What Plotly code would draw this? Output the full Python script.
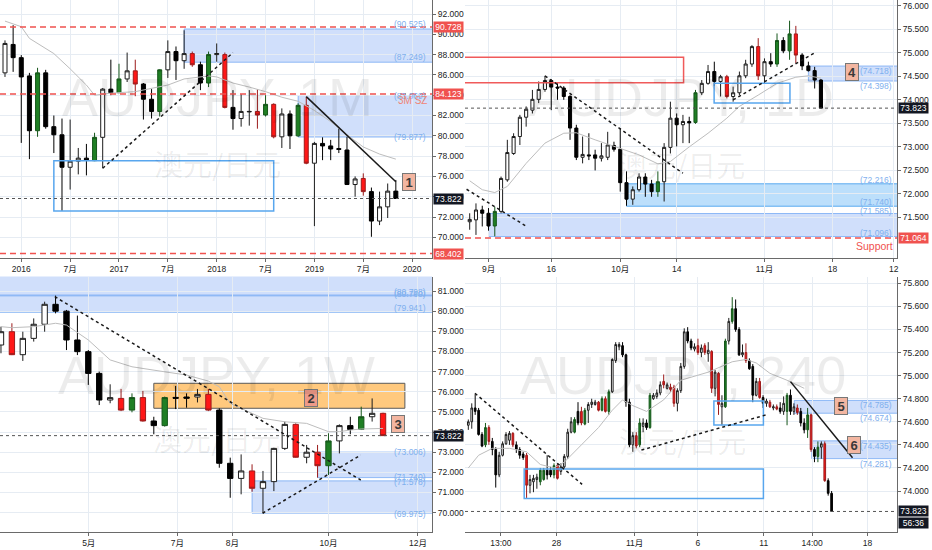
import plotly.graph_objects as go

# ============================ DATA ============================
# ---- Monthly (top-left), Nov 2015 .. Nov 2019 ----
m_kind = ['w','b','b','b','g','b','b','b','w','w','b','g','w','b','g','w','r','b','b','g',
          'w','b','w','r','b','g','w','r','b','w','w','r','g','r','w','b','g','r','w','b',
          'b','b','b','w','r','b','w','w','b']
m_open = [86.2, 89.0, 87.7, 85.9, 80.5, 86.2, 80.9, 80.1, 76.9, 77.5, 77.8, 77.55, 79.85, 84.6, 84.25,
          85.6, 86.4, 85.1, 83.6, 82.4, 86.5, 88.3, 87.4, 88.1, 87.0, 85.2, 88.0, 88.0, 82.8, 81.7,
          82.35, 82.4, 82.05, 83.1, 79.9, 82.15, 80.0, 83.0, 77.3, 79.25, 79.0, 78.75, 78.6, 75.2, 75.8,
          74.5, 71.6, 73.0, 74.55]
m_high = [89.4, 90.9, 87.95, 86.2, 86.7, 86.5, 82.0, 81.7, 81.6, 78.8, 79.2, 80.3, 84.7, 87.5, 87.1,
          88.2, 87.5, 85.2, 84.6, 86.55, 89.4, 88.8, 90.4, 88.3, 87.3, 88.3, 89.1, 88.2, 84.5, 84.1,
          84.5, 84.6, 84.0, 83.2, 82.7, 82.5, 83.2, 83.85, 79.4, 79.85, 79.6, 80.7, 79.9, 76.0, 76.3,
          74.9, 74.5, 75.3, 75.65]
m_low = [85.8, 86.3, 79.3, 77.7, 79.9, 80.7, 78.3, 72.6, 74.7, 76.2, 76.1, 77.5, 76.8, 84.0, 84.2,
         85.3, 83.9, 81.6, 81.7, 81.9, 85.7, 85.5, 86.6, 86.8, 84.5, 84.8, 87.3, 82.7, 80.6, 80.9,
         81.0, 80.7, 81.9, 79.75, 78.8, 78.7, 79.9, 77.2, 71.1, 77.6, 77.6, 78.3, 75.15, 74.0, 74.1,
         70.05, 71.2, 71.9, 73.82]
m_close = [89.1, 87.7, 85.8, 80.5, 86.2, 80.9, 80.1, 76.9, 77.5, 77.8, 77.6, 79.85, 84.6, 84.25, 85.6,
           86.4, 85.1, 83.6, 82.4, 86.5, 88.3, 87.4, 88.1, 87.0, 85.2, 88.0, 88.1, 82.8, 81.7, 82.4,
           82.4, 82.05, 83.1, 79.9, 82.15, 80.0, 83.0, 77.3, 79.25, 79.0, 78.7, 78.65, 75.2, 75.75, 74.5,
           71.6, 73.0, 74.55, 73.822]
m_ma_x = [0, 2, 3, 6, 8, 10, 11, 13, 16, 18, 20, 22, 25, 26, 28, 30, 32, 34, 36, 38, 40, 42, 44, 46, 48]
m_ma_y = [91.3, 90.75, 89.6, 88.1, 86.6, 85.0, 84.0, 84.2, 84.35, 84.7, 85.0, 85.6, 85.9, 85.8, 85.2,
          84.8, 84.35, 83.8, 83.4, 82.5, 81.4, 80.1, 78.9, 78.2, 77.7]
m_tickvals = [2, 8, 14, 20, 26, 32, 38, 44, 50]
m_ticktext = ['2016', '7月', '2017', '7月', '2018', '7月', '2019', '7月', '2020']
m_yticks = [70, 72, 74, 76, 78, 80, 82, 84, 86, 88, 90, 92]

# ---- Daily (top-right) ----
d_kind = ['w','w','b','b','g','w','w','w','w','w',
          'w','w','w','b','b','b','b','b','w','b',
          'b','w','w','b','b','b','w','w','b','b',
          'g','w','w','b','w','b','g','w','w','b',
          'w','r','w','w','w','w','r','w','b','g',
          'b','g','r','b','b','b','b']
d_open = [71.41, 71.45, 71.66, 71.59, 71.32, 71.63, 72.30, 72.86, 73.22, 73.63,
          73.78, 74.01, 74.22, 74.41, 74.27, 74.25, 74.07, 73.40, 72.78, 72.83,
          72.83, 72.76, 72.78, 73.03, 72.95, 72.24, 71.89, 72.09, 72.36, 72.21,
          72.05, 72.26, 72.99, 73.61, 73.47, 73.54, 73.52, 74.15, 74.35, 74.60,
          74.39, 74.49, 74.07, 74.15, 74.51, 74.76, 75.13, 74.51, 74.81, 74.76,
          75.26, 75.04, 75.40, 74.95, 74.72, 74.62, 74.42]
d_high = [71.59, 71.80, 71.75, 71.70, 71.73, 72.37, 73.15, 73.29, 73.68, 73.86,
          74.21, 74.39, 74.51, 74.44, 74.35, 74.29, 74.10, 73.47, 73.22, 73.29,
          72.94, 73.08, 73.32, 73.11, 73.40, 72.48, 72.16, 72.44, 72.44, 72.30,
          72.48, 73.08, 73.96, 73.71, 73.68, 73.64, 74.21, 74.42, 74.74, 74.81,
          74.53, 74.53, 74.28, 74.60, 74.85, 75.16, 75.31, 74.88, 74.99, 75.41,
          75.33, 75.68, 75.57, 74.99, 74.81, 74.70, 74.44]
d_low = [71.24, 71.13, 71.31, 71.22, 71.10, 71.59, 72.26, 72.83, 73.04, 73.43,
         73.71, 73.93, 74.17, 73.78, 74.00, 74.00, 73.15, 72.72, 72.65, 72.72,
         72.50, 72.69, 72.72, 72.90, 72.05, 71.75, 71.77, 72.05, 71.94, 71.94,
         71.94, 71.84, 72.86, 73.01, 73.08, 73.08, 73.49, 74.10, 74.32, 74.29,
         74.07, 74.03, 73.96, 74.10, 74.46, 74.70, 74.42, 74.35, 74.70, 74.70,
         74.99, 74.85, 74.78, 74.63, 74.60, 74.24, 73.82]
d_close = [71.46, 71.66, 71.59, 71.32, 71.63, 72.33, 72.88, 73.22, 73.63, 73.80,
           74.01, 74.22, 74.41, 74.27, 74.25, 74.07, 73.40, 72.78, 72.84, 72.81,
           72.76, 72.81, 73.04, 72.95, 72.24, 71.89, 72.09, 72.36, 72.21, 72.05,
           72.26, 72.99, 73.61, 73.47, 73.54, 73.51, 74.15, 74.35, 74.60, 74.39,
           74.49, 74.07, 74.15, 74.51, 74.76, 75.13, 74.51, 74.81, 74.76, 75.26,
           75.04, 75.40, 74.95, 74.72, 74.62, 74.42, 73.823]
d_ma_x = [0, 2, 4, 6, 9, 12, 15, 17, 20, 24, 27, 30, 32, 35, 38, 41, 43, 46, 49, 52, 54, 56]
d_ma_y = [72.28, 72.09, 72.03, 72.16, 72.65, 73.08, 73.29, 73.30, 73.15, 72.97, 72.83,
          72.64, 72.69, 73.00, 73.29, 73.61, 73.86, 74.10, 74.35, 74.48, 74.51, 74.46]
d_tickvals = [3, 13, 24, 33, 47, 57.85, 67.6]
d_ticktext = ['9月', '16', '10月', '14', '11月', '18', '12']
d_yticks = [71.5, 72.0, 72.5, 73.0, 73.5, 74.0, 74.5, 75.0, 75.5, 76.0]

# ---- Weekly (bottom-left) ----
w_kind = ['w','r','w','w','w','b','b','b','b','b',
          'w','r','g','r','b','g','b','b','w','r',
          'b','b','w','r','w','w','w','r','w','r',
          'g','w','b','g','w','r']
w_open = [78.32, 78.98, 77.84, 78.65, 79.35, 80.34, 80.0, 78.57, 77.99, 76.91,
          75.59, 75.67, 75.09, 75.71, 74.55, 74.32, 75.72, 75.74, 75.74, 75.87,
          75.09, 72.45, 71.70, 72.07, 71.21, 71.54, 73.19, 74.38, 72.75, 73.0,
          72.33, 73.56, 74.32, 74.13, 74.76, 74.93]
w_high = [79.23, 79.40, 78.98, 79.64, 80.47, 80.77, 80.06, 79.78, 78.07, 77.0,
          76.37, 76.14, 75.92, 76.04, 74.76, 75.76, 76.29, 75.92, 76.14, 76.14,
          75.18, 72.73, 72.89, 72.40, 72.07, 73.22, 74.52, 74.43, 73.36, 73.36,
          73.94, 74.38, 74.76, 75.26, 75.67, 74.96]
w_low = [77.91, 77.82, 77.53, 78.49, 78.98, 79.89, 78.07, 77.82, 76.34, 75.34,
         75.43, 75.04, 74.98, 74.52, 73.89, 74.27, 75.14, 75.21, 75.47, 75.04,
         72.23, 70.74, 70.91, 71.04, 69.97, 71.07, 73.11, 72.73, 72.45, 71.74,
         71.87, 72.94, 73.89, 74.10, 74.52, 73.82]
w_close = [78.98, 77.84, 78.65, 79.35, 80.34, 80.0, 78.57, 77.99, 76.91, 75.59,
           75.71, 75.09, 75.71, 74.55, 74.32, 75.71, 75.68, 75.68, 75.87, 75.09,
           72.45, 71.70, 72.07, 71.21, 71.54, 73.19, 74.38, 72.75, 73.0, 72.33,
           73.56, 74.32, 74.13, 74.76, 74.93, 73.822]
w_ma_x = [0, 1, 3, 5, 6, 8, 10, 12, 15, 17, 19, 20, 21, 24, 26, 28, 30, 31, 32, 33, 35]
w_ma_y = [79.23, 79.18, 79.23, 79.40, 79.31, 78.57, 77.58, 77.24, 76.99, 76.83, 76.53,
          76.25, 75.42, 74.68, 74.51, 74.43, 74.02, 74.02, 74.10, 74.15, 74.18]
w_tickvals = [8.04, 16.15, 21.2, 30.0, 38.2]
w_ticktext = ['5月', '7月', '8月', '10月', '12月']
w_yticks = [70, 71, 72, 73, 74, 75, 76, 77, 78, 79, 80, 81]

# ---- 4 hour (bottom-right) ----
h_kind = ['w','w','b','b','b','g','r','b','b','w',
          'w','w','w','r','b','b','b','r','w','w',
          'w','g','g','b','b','g','r','w','w','w',
          'w','g','b','r','g','w','w','w','r','g',
          'r','g','w','w','w','b','b','b','w','r',
          'g','w','b','g','w','w','w','r','w','r',
          'r','w','w','w','b','b','w','r','w','r',
          'w','r','w','r','w','g','w','g','b','b',
          'w','r','b','b','w','r','b','w','r','w',
          'r','b','w','g','b','w','r','b','b','g',
          'r','b','g','w','r','b','b']
h_open = [74.57, 74.60, 74.72, 74.70, 74.49, 74.40, 74.55, 74.43, 74.36, 74.14,
          74.31, 74.41, 74.44, 74.50, 74.40, 74.36, 74.32, 74.31, 74.05, 74.08,
          74.10, 74.08, 74.10, 74.18, 74.18, 74.14, 74.22, 74.17, 74.21, 74.30,
          74.51, 74.51, 74.69, 74.69, 74.58, 74.70, 74.75, 74.75, 74.77, 74.70,
          74.80, 74.69, 74.86, 75.13, 75.25, 75.26, 75.18, 74.77, 74.40, 74.48,
          74.40, 74.56, 74.59, 74.55, 74.80, 74.82, 74.85, 74.95, 74.89, 74.90,
          74.90, 74.76, 74.87, 75.08, 75.38, 75.30, 75.23, 75.26, 75.20, 75.26,
          75.19, 75.21, 74.89, 75.02, 74.73, 74.73, 75.30, 75.47, 75.58, 75.40,
          75.18, 75.20, 75.13, 75.08, 74.83, 74.95, 74.81, 74.76, 74.77, 74.72,
          74.73, 74.72, 74.69, 74.69, 74.83, 74.69, 74.72, 74.69, 74.59, 74.53,
          74.66, 74.36, 74.30, 74.38, 74.41, 74.09, 73.98]
h_high = [74.62, 74.76, 74.84, 74.72, 74.51, 74.59, 74.57, 74.46, 74.38, 74.34,
          74.43, 74.51, 74.52, 74.51, 74.43, 74.38, 74.34, 74.33, 74.14, 74.14,
          74.15, 74.20, 74.20, 74.31, 74.21, 74.24, 74.24, 74.24, 74.32, 74.54,
          74.64, 74.64, 74.77, 74.73, 74.72, 74.77, 74.80, 74.79, 74.78, 74.82,
          74.82, 74.88, 75.15, 75.29, 75.29, 75.29, 75.19, 74.80, 74.51, 74.51,
          74.63, 74.63, 74.62, 74.85, 74.85, 74.88, 74.95, 75.01, 74.94, 74.93,
          74.92, 74.89, 75.11, 75.41, 75.42, 75.32, 75.28, 75.32, 75.27, 75.28,
          75.29, 75.22, 75.05, 75.03, 74.83, 75.32, 75.50, 75.68, 75.66, 75.42,
          75.27, 75.28, 75.15, 75.10, 74.98, 74.98, 74.83, 74.80, 74.79, 74.75,
          74.75, 74.77, 74.82, 74.85, 74.88, 74.76, 74.75, 74.72, 74.63, 74.72,
          74.67, 74.38, 74.43, 74.43, 74.43, 74.11, 74.00]
h_low = [74.53, 74.54, 74.66, 74.48, 74.38, 74.38, 74.40, 74.31, 74.03, 74.12,
         74.30, 74.40, 74.40, 74.38, 74.33, 74.28, 74.27, 73.94, 73.98, 73.99,
         74.02, 74.05, 74.09, 74.10, 74.12, 74.11, 74.10, 74.14, 74.20, 74.28,
         74.50, 74.50, 74.57, 74.57, 74.57, 74.59, 74.72, 74.74, 74.69, 74.69,
         74.68, 74.66, 74.85, 75.11, 75.22, 75.16, 74.73, 74.38, 74.34, 74.37,
         74.38, 74.51, 74.53, 74.54, 74.79, 74.80, 74.83, 74.89, 74.88, 74.86,
         74.73, 74.69, 74.85, 75.06, 75.28, 75.22, 75.21, 75.18, 75.16, 75.18,
         75.12, 74.85, 74.82, 74.66, 74.57, 74.72, 75.27, 75.45, 75.38, 75.17,
         75.16, 75.11, 75.05, 74.77, 74.82, 74.80, 74.72, 74.73, 74.72, 74.70,
         74.70, 74.67, 74.66, 74.57, 74.66, 74.66, 74.66, 74.56, 74.50, 74.46,
         74.34, 74.25, 74.25, 74.28, 74.08, 73.96, 73.82]
h_close = [74.60, 74.72, 74.69, 74.49, 74.39, 74.55, 74.43, 74.36, 74.14, 74.31,
           74.41, 74.49, 74.50, 74.40, 74.36, 74.31, 74.29, 74.05, 74.10, 74.11,
           74.12, 74.18, 74.18, 74.14, 74.14, 74.22, 74.11, 74.21, 74.30, 74.51,
           74.60, 74.62, 74.59, 74.59, 74.70, 74.75, 74.77, 74.77, 74.70, 74.80,
           74.69, 74.86, 75.14, 75.27, 75.27, 75.18, 74.77, 74.40, 74.48, 74.39,
           74.59, 74.59, 74.55, 74.83, 74.83, 74.85, 74.92, 74.92, 74.92, 74.88,
           74.76, 74.87, 75.08, 75.38, 75.30, 75.24, 75.25, 75.20, 75.24, 75.20,
           75.22, 74.89, 75.03, 74.75, 74.76, 75.30, 75.47, 75.58, 75.40, 75.18,
           75.20, 75.13, 75.06, 74.83, 74.95, 74.81, 74.76, 74.78, 74.73, 74.73,
           74.71, 74.69, 74.76, 74.83, 74.69, 74.73, 74.68, 74.59, 74.53, 74.66,
           74.36, 74.30, 74.38, 74.41, 74.09, 73.98, 73.823]
h_ma_x = [0, 3, 7, 12, 17, 21, 25, 28, 33, 38, 42, 45, 48, 52, 57, 62, 70, 77, 81, 84, 88, 93, 98]
h_ma_y = [74.20, 74.31, 74.37, 74.37, 74.34, 74.23, 74.20, 74.25, 74.40, 74.55, 74.70, 74.79,
          74.74, 74.69, 74.79, 74.96, 75.03, 75.12, 75.14, 75.11, 75.02, 74.96, 74.89]
h_tickvals = [9.5, 25.7, 48.5, 67.0, 86.2, 100.3, 116.5]
h_ticktext = ['13:00', '28', '11月', '6', '11', '14:00', '18']
h_yticks = [74.0, 74.2, 74.4, 74.6, 74.8, 75.0, 75.2, 75.4, 75.6, 75.8]

# ---- price levels ----
m_red_levels = [90.728, 84.123, 68.402]
d_red_levels = [71.064]
m_last, d_last, w_last, h_last = 73.822, 73.823, 73.822, 73.823

# ============================ STYLE / GEOMETRY ============================
W, H = 932, 550
GRID = '#e6ecf3'
AXC = '#6a6a6a'
ZFILL = 'rgba(40,110,235,0.22)'
ZLINE = 'rgba(70,140,240,0.55)'
LBL = '#7fb0ee'
RED = '#f0524f'
WM = 'rgba(0,0,0,0.075)'
FONT = 'Liberation Sans, Arial, Noto Sans CJK SC'
CJK = 'Noto Sans CJK SC'

STY = {'w': ('#ffffff', '#1c1c1c'), 'b': ('#000000', '#000000'),
       'g': ('#1f7f24', '#15561a'), 'r': ('#ff1717', '#9c1b1b')}


def dx(a, b):
    return [a / W, b / W]


def dy(top, bottom):
    return [1 - bottom / H, 1 - top / H]


fig = go.Figure()


def add_panel(xa, ya, kinds, o, h, l, c, ma_x, ma_y):
    fig.add_trace(go.Scatter(x=ma_x, y=ma_y, mode='lines', line=dict(color='#bdbdbd', width=1),
                             xaxis=xa, yaxis=ya, hoverinfo='skip', showlegend=False))
    for k in ['w', 'b', 'g', 'r']:
        ids = [i for i, kk in enumerate(kinds) if kk == k]
        if not ids:
            continue
        fill, lc = STY[k]
        st = dict(fillcolor=fill, line=dict(color=lc, width=1))
        fig.add_trace(go.Candlestick(
            x=ids, open=[o[i] for i in ids], high=[h[i] for i in ids],
            low=[l[i] for i in ids], close=[c[i] for i in ids],
            increasing=st, decreasing=st, whiskerwidth=0,
            xaxis=xa, yaxis=ya, showlegend=False))


add_panel('x', 'y', m_kind, m_open, m_high, m_low, m_close, m_ma_x, m_ma_y)
add_panel('x2', 'y2', d_kind, d_open, d_high, d_low, d_close, d_ma_x, d_ma_y)
add_panel('x3', 'y3', w_kind, w_open, w_high, w_low, w_close, w_ma_x, w_ma_y)
add_panel('x4', 'y4', h_kind, h_open, h_high, h_low, h_close, h_ma_x, h_ma_y)

shapes = []
annots = []


def zone(xr, yr, x0, y0, y1, x1=1000, fill=ZFILL, line=ZLINE):
    shapes.append(dict(type='rect', xref=xr, yref=yr, x0=x0, x1=x1, y0=y0, y1=y1,
                       fillcolor=fill, line=dict(color=line, width=1), layer='below'))


def box(xr, yr, x0, x1, y0, y1, color, width=1.5):
    shapes.append(dict(type='rect', xref=xr, yref=yr, x0=x0, x1=x1, y0=y0, y1=y1,
                       fillcolor='rgba(0,0,0,0)', line=dict(color=color, width=width)))


def seg(xr, yr, x0, y0, x1, y1, dash='dot', width=1.5, color='#1a1a1a'):
    shapes.append(dict(type='line', xref=xr, yref=yr, x0=x0, y0=y0, x1=x1, y1=y1,
                       line=dict(color=color, width=width, dash=dash)))


def hline(xr, yr, y, color, dash, width=1):
    shapes.append(dict(type='line', xref=xr + ' domain', yref=yr, x0=0, x1=1, y0=y, y1=y,
                       line=dict(color=color, width=width, dash=dash)))


def zlabel(yr, y, text, xpx, shift=0, color=LBL, size=8.5):
    annots.append(dict(text=text, x=xpx / W, xref='paper', xanchor='right', y=y, yref=yr,
                       yanchor='middle', yshift=shift, showarrow=False,
                       font=dict(size=size, color=color, family=FONT)))


def tag(yr, y, text, xpx, bg, shift=0):
    annots.append(dict(text=text, x=xpx / W, xref='paper', xanchor='left', y=y, yref=yr,
                       yanchor='middle', yshift=shift, showarrow=False, bgcolor=bg,
                       width=29, height=10, borderpad=0,
                       font=dict(size=8.5, color='white', family=FONT)))


def numbox(xr, yr, x, y, text, bg='#f3b6a1'):
    annots.append(dict(text='<b>%s</b>' % text, x=x, y=y, xref=xr, yref=yr, showarrow=False,
                       xanchor='center', yanchor='middle',
                       bgcolor=bg, bordercolor='#777777', borderwidth=1, borderpad=1,
                       width=10, height=14, font=dict(size=13, color='#3a3a3a', family=FONT)))


def watermark(cx, cy1, cy2, title):
    annots.append(dict(text=title, x=cx / W, y=1 - cy1 / H, xref='paper', yref='paper',
                       xanchor='center', yanchor='middle',
                       showarrow=False, font=dict(size=54, color=WM, family=FONT)))
    annots.append(dict(text='澳元/日元', x=cx / W, y=1 - cy2 / H, xref='paper', yref='paper',
                       xanchor='center', yanchor='middle',
                       showarrow=False, font=dict(size=29, color=WM, family=CJK)))


# ---- top-left: monthly ----
zone('x', 'y', 22, 87.249, 90.525)
zone('x', 'y', 36, 79.877, 83.969)
box('x', 'y', 6, 33, 72.6, 77.55, '#58a6ee')
for lv in m_red_levels:
    hline('x', 'y', lv, RED, '6px,4px', 1.5)
hline('x', 'y', m_last, '#555555', 'dot')
seg('x', 'y', 12, 76.8, 28, 88.19)
seg('x', 'y', 37, 83.86, 48, 75.48, dash='solid')
zlabel('y', 90.525, '(90.525)', 429, 5)
zlabel('y', 87.249, '(87.249)', 429, 5)
zlabel('y', 83.969, '(83.969)', 429, 0)
zlabel('y', 79.877, '(79.877)', 429, 0)
zlabel('y', 83.969, '3M SZ', 430, -5, color='#f08575', size=10)
numbox('x', 'y', 49.6, 75.48, '1')
tag('y', 90.728, '90.728', 434, RED)
tag('y', 84.123, '84.123', 434, RED)
tag('y', m_last, '73.822', 434, '#131722')
tag('y', 68.402, '68.402', 434, RED)

# ---- top-right: daily ----
zone('x2', 'y2', 54.0, 74.398, 74.718)
zone('x2', 'y2', 25, 71.740, 72.216, fill='rgba(33,150,243,0.30)', line='#5aaaf0')
zone('x2', 'y2', 3, 71.096, 71.585)
box('x2', 'y2', -5, 34.1, 74.365, 74.903, '#f05a5a')
box('x2', 'y2', 38.97, 51.06, 73.93, 74.35, '#58a6ee')
for lv in d_red_levels:
    hline('x2', 'y2', lv, RED, '6px,4px', 1.5)
hline('x2', 'y2', d_last, '#555555', 'dot')
seg('x2', 'y2', -0.5, 72.1, 9.07, 71.31)
seg('x2', 'y2', 12, 74.51, 34, 72.44)
seg('x2', 'y2', 42, 74.0, 54.9, 74.99)
zlabel('y2', 74.718, '(74.718)', 896, -5)
zlabel('y2', 74.398, '(74.398)', 896, -5)
zlabel('y2', 72.216, '(72.216)', 896, 4)
zlabel('y2', 71.740, '(71.740)', 896, 4)
zlabel('y2', 71.585, '(71.585)', 896, 3)
zlabel('y2', 71.096, '(71.096)', 896, 4)
zlabel('y2', 71.064, 'Support', 897, -8, color=RED, size=10.5)
numbox('x2', 'y2', 60.9, 74.59, '4')
tag('y2', d_last, '73.823', 900, '#131722')
tag('y2', 71.064, '71.064', 900, RED)

# ---- bottom-left: weekly ----
zone('x3', 'y3', -5, 80.798, 83)
zone('x3', 'y3', -5, 79.941, 80.76)
shapes.append(dict(type='rect', xref='x3', yref='y3', x0=14, x1=37, y0=75.18, y1=76.42,
                   fillcolor='rgba(255,165,40,0.6)', line=dict(color='#5a5a5a', width=1),
                   layer='below'))
zone('x3', 'y3', 29, 71.740, 73.006)
zone('x3', 'y3', 23, 69.975, 71.578)
hline('x3', 'y3', w_last, '#555555', 'dot')
seg('x3', 'y3', 4.93, 80.72, 32.96, 71.62)
seg('x3', 'y3', 23.97, 69.97, 32.96, 72.86)
zlabel('y3', 80.798, '(80.798)', 429, 3)
zlabel('y3', 80.76, '(80.760)', 429, 2)
zlabel('y3', 79.941, '(79.941)', 429, 4)
zlabel('y3', 73.006, '(73.006)', 429, 0)
zlabel('y3', 71.740, '(71.740)', 429, 1)
zlabel('y3', 71.578, '(71.578)', 429, -1)
zlabel('y3', 69.975, '(69.975)', 429, -1)
numbox('x3', 'y3', 28.4, 75.71, '2', bg='#ef9a88')
numbox('x3', 'y3', 36.4, 74.4, '3')
tag('y3', w_last, '73.822', 434, '#131722')

# ---- bottom-right: 4 hour ----
zone('x4', 'y4', 95.1, 74.674, 74.785)
zone('x4', 'y4', 100.2, 74.281, 74.435)
box('x4', 'y4', 16.3, 86.1, 73.936, 74.191, '#58a6ee')
box('x4', 'y4', 71.65, 86.1, 74.572, 74.780, '#58a6ee')
hline('x4', 'y4', h_last, '#555555', 'dot')
seg('x4', 'y4', 1.94, 74.847, 33.2, 74.058)
seg('x4', 'y4', 50.5, 74.355, 87.4, 74.664)
seg('x4', 'y4', 94.0, 74.948, 112.1, 74.289, dash='solid')
zlabel('y4', 74.785, '(74.785)', 896, -5)
zlabel('y4', 74.674, '(74.674)', 896, -5)
zlabel('y4', 74.435, '(74.435)', 896, -5)
zlabel('y4', 74.281, '(74.281)', 896, -5)
numbox('x4', 'y4', 108.6, 74.74, '5')
numbox('x4', 'y4', 112.6, 74.396, '6')
tag('y4', h_last, '73.823', 900, '#131722')
tag('y4', h_last, '56:36', 900, '#131722', shift=-12)

watermark(218, 97.5, 163, 'AUDJPY, 1M')
watermark(683, 97.5, 164, 'AUDJPY, 1D')
watermark(217, 375, 438, 'AUDJPY, 1W')
watermark(684, 375, 440, 'AUDJPY, 240')


def xaxis(dom, rng, tv, tt, anchor):
    return dict(domain=dom, range=rng, anchor=anchor, tickmode='array', tickvals=tv, ticktext=tt,
                showgrid=True, gridcolor=GRID, gridwidth=1, zeroline=False, showline=True,
                linecolor=AXC, linewidth=1, ticks='outside', ticklen=3, tickcolor=AXC,
                rangeslider=dict(visible=False), fixedrange=True,
                tickfont=dict(size=8.5, color='#222', family=FONT))


def yaxis(dom, rng, tv, anchor):
    return dict(domain=dom, range=rng, anchor=anchor, side='right', tickmode='array', tickvals=tv,
                tickformat='.3f', showgrid=True, gridcolor=GRID, gridwidth=1, zeroline=False,
                showline=True, linecolor=AXC, linewidth=1, ticks='outside', ticklen=3,
                tickcolor=AXC, fixedrange=True, tickfont=dict(size=8.5, color='#222', family=FONT))


fig.update_layout(
    width=W, height=H, margin=dict(l=0, r=0, t=0, b=0),
    paper_bgcolor='white', plot_bgcolor='white', showlegend=False,
    font=dict(family=FONT, size=8.5, color='#222'),
    boxgap=0.3,
    xaxis=xaxis(dx(0, 433), [-0.613, 52.45], m_tickvals, m_ticktext, 'y'),
    yaxis=yaxis(dy(0, 258), [67.96, 93.38], m_yticks, 'x'),
    xaxis2=xaxis(dx(466, 899), [-0.75, 68.14], d_tickvals, d_ticktext, 'y2'),
    yaxis2=yaxis(dy(0, 258), [70.64, 76.12], d_yticks, 'x2'),
    xaxis3=xaxis(dx(0, 433), [-0.09, 39.49], w_tickvals, w_ticktext, 'y3'),
    yaxis3=yaxis(dy(276.5, 532), [69.04, 81.72], w_yticks, 'x3'),
    xaxis4=xaxis(dx(466, 899), [-0.97, 125.1], h_tickvals, h_ticktext, 'y4'),
    yaxis4=yaxis(dy(276.5, 532), [73.645, 75.859], h_yticks, 'x4'),
    shapes=shapes, annotations=annots,
)

fig.write_html('out.html', config={'displayModeBar': False},
               post_script="document.body.style.margin='0';document.body.style.overflow='hidden';")
